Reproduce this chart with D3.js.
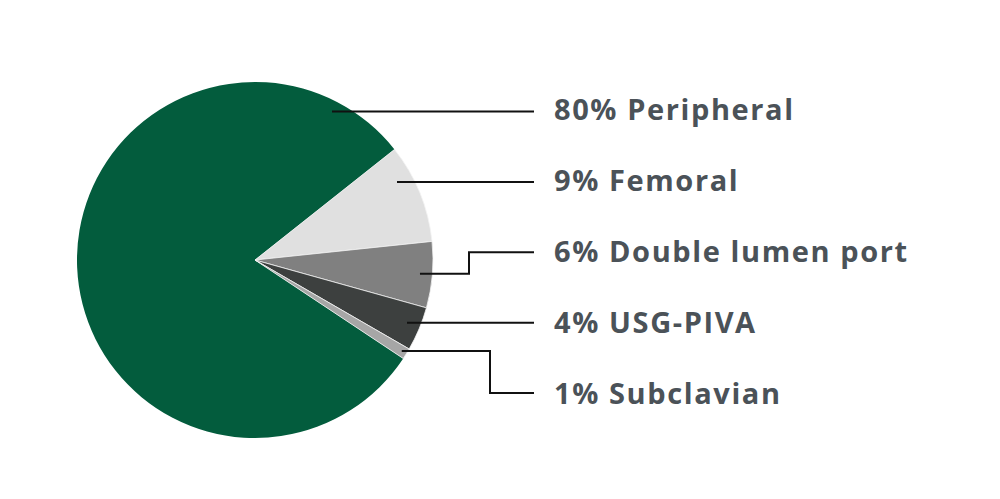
<!DOCTYPE html>
<html><head><meta charset="utf-8">
<script src="https://cdn.jsdelivr.net/npm/d3@7"></script>
<style>html,body{margin:0;padding:0;background:#fff;}svg{display:block;}</style>
</head><body>
<svg id="chart" width="1000" height="499"></svg>
<script>
const categories = ["Peripheral", "Femoral", "Double lumen port", "USG-PIVA", "Subclavian"];
const values = [80, 9, 6, 4, 1];
const colors = ["#035c3d", "#e0e0e0", "#808080", "#3d403f", "#a6a6a6"];

const svg = d3.select("#chart");
const cx = 255, cy = 260, R = 178;
const deg = Math.PI / 180;
const start = (51.6 - 288) * deg;

// layout of leader lines (not data)
const labelRows = [0, 1, 2, 3, 4];
const elbowX = [null, null, 469, null, 490];
const straightStartX = [332, 397, null, 407, null];
const anchorR = [0, 0, 0.93, 0, 0.97];

const pie = d3.pie().sort(null).value(d => d).startAngle(start).endAngle(start + 2 * Math.PI);
const arcs = pie(values);
const arc = d3.arc().innerRadius(0).outerRadius(R);

const g = svg.append("g").attr("transform", `translate(${cx},${cy})`);
g.selectAll("path").data(arcs).enter().append("path")
  .attr("d", arc)
  .attr("fill", (d, i) => colors[i])
  .attr("stroke", (d, i) => i === 0 ? "none" : "#f2f2f2")
  .attr("stroke-width", 0.8);

const rowY = d3.scaleLinear().domain([0, 4]).range([111.5, 393]);
const textY = d3.scaleLinear().domain([0, 4]).range([119.5, 404]);
const lineEndX = 534, textX = 554;

const lines = svg.append("g");
arcs.forEach((a, i) => {
  const ty = rowY(labelRows[i]);
  const mid = (a.startAngle + a.endAngle) / 2;
  let pts;
  if (elbowX[i] === null) {
    pts = [[straightStartX[i], ty], [lineEndX, ty]];
  } else {
    const ax = cx + Math.sin(mid) * R * anchorR[i];
    const ay = cy - Math.cos(mid) * R * anchorR[i];
    pts = [[ax, ay], [elbowX[i], ay], [elbowX[i], ty], [lineEndX, ty]];
  }
  lines.append("path")
    .attr("d", d3.line()(pts))
    .attr("fill", "none")
    .attr("stroke", "#111")
    .attr("stroke-width", 2);
  svg.append("text")
    .attr("x", textX).attr("y", textY(labelRows[i]))
    .attr("font-family", "'Open Sans', sans-serif")
    .attr("font-weight", 700)
    .attr("font-size", 29)
    .attr("letter-spacing", 1.6)
    .attr("fill", "#4b5258")
    .text(`${values[i]}% ${categories[i]}`);
});
</script>
</body></html>
